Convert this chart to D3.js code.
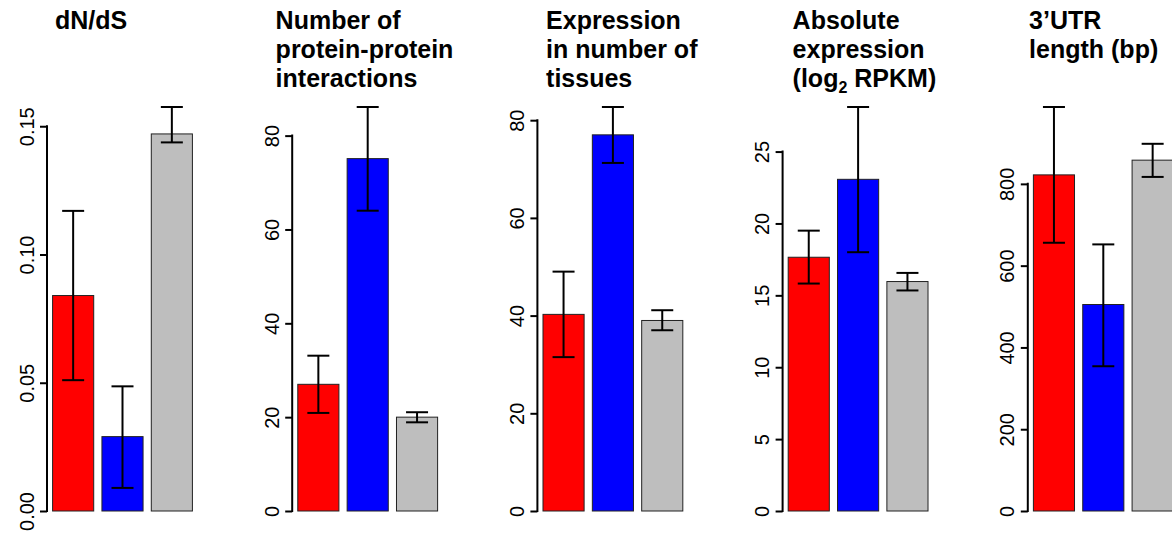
<!DOCTYPE html>
<html>
<head>
<meta charset="utf-8">
<script src="https://cdn.jsdelivr.net/npm/d3@7"></script>
<style>
  body { margin: 0; background: #fff; }
  text { font-family: "Liberation Sans", Arial, sans-serif; }
</style>
</head>
<body>
<script>
// groups (bar order) and their fills
var groups = ["group1", "group2", "group3"];
var fills = ["#ff0000", "#0000ff", "#bebebe"];

// panel titles (one entry per line)
var titles = [
    ["dN/dS"],
    ["Number of", "protein-protein", "interactions"],
    ["Expression", "in number of", "tissues"],
    ["Absolute", "expression", "(log2 RPKM)"],
    ["3\u2019UTR", "length (bp)"]
];

// means and error bar ends
var dndsMean = [0.084, 0.029, 0.147];
var dndsLow = [0.051, 0.009, 0.1437];
var dndsHigh = [0.117, 0.0486, 0.1575];

var ppiMean = [27.0, 75.1, 20.0];
var ppiLow = [20.9, 64.0, 18.9];
var ppiHigh = [33.1, 86.1, 21.05];

var tissueMean = [40.25, 77.0, 39.0];
var tissueLow = [31.5, 71.25, 37.0];
var tissueHigh = [49.0, 82.7, 41.1];

var rpkmMean = [17.65, 23.07, 15.96];
var rpkmLow = [15.82, 18.0, 15.34];
var rpkmHigh = [19.5, 28.1, 16.56];

var utrMean = [822, 505, 858];
var utrLow = [656, 354, 817];
var utrHigh = [988, 652, 898];

// tick labels per panel
var ticks = [
    [0, 0.05, 0.10, 0.15],
    [0, 20, 40, 60, 80],
    [0, 20, 40, 60, 80],
    [0, 5, 10, 15, 20, 25],
    [0, 200, 400, 600, 800]
];
var tickFormats = [d3.format(".2f"), d3.format("d"), d3.format("d"), d3.format("d"), d3.format("d")];

var means = [dndsMean, ppiMean, tissueMean, rpkmMean, utrMean];
var lows = [dndsLow, ppiLow, tissueLow, rpkmLow, utrLow];
var highs = [dndsHigh, ppiHigh, tissueHigh, rpkmHigh, utrHigh];

// layout
var width = 1172, height = 535;
var firstAxisX = 47, panelStep = 245.2, plotWidth = 151;
var plotTop = 107, plotBottom = 511;
var titleDx = [8, -16.6, 8.7, 10, 1.3];

var svg = d3.select("body").append("svg")
    .attr("width", width)
    .attr("height", height);

titles.forEach(function (lines, p) {
    var axisX = firstAxisX + p * panelStep;
    var g = svg.append("g").attr("transform", "translate(" + axisX + ",0)");

    var y = d3.scaleLinear()
        .domain([0, d3.max(highs[p])])
        .range([plotBottom, plotTop]);

    var x = d3.scaleBand()
        .domain(groups)
        .range([0, plotWidth])
        .paddingInner(1 / 6)
        .paddingOuter(0.1133);

    var rows = groups.map(function (gr, i) {
        return {group: gr, fill: fills[i], mean: means[p][i], low: lows[p][i], high: highs[p][i]};
    });

    // bars
    g.selectAll("rect.bar")
        .data(rows)
        .enter().append("rect")
        .attr("class", "bar")
        .attr("x", function (d) { return x(d.group); })
        .attr("width", x.bandwidth())
        .attr("y", function (d) { return y(d.mean); })
        .attr("height", function (d) { return y(0) - y(d.mean); })
        .attr("fill", function (d) { return d.fill; })
        .attr("stroke", "#222")
        .attr("stroke-width", 1);

    // error bars
    var err = g.selectAll("g.err")
        .data(rows)
        .enter().append("g")
        .attr("class", "err")
        .attr("stroke", "#000")
        .attr("stroke-width", 2);
    var cx = function (d) { return x(d.group) + x.bandwidth() / 2; };
    err.append("line")
        .attr("x1", cx).attr("x2", cx)
        .attr("y1", function (d) { return y(d.low); })
        .attr("y2", function (d) { return y(d.high); });
    err.append("line")
        .attr("x1", function (d) { return cx(d) - 11; })
        .attr("x2", function (d) { return cx(d) + 11; })
        .attr("y1", function (d) { return y(d.high); })
        .attr("y2", function (d) { return y(d.high); });
    err.append("line")
        .attr("x1", function (d) { return cx(d) - 11; })
        .attr("x2", function (d) { return cx(d) + 11; })
        .attr("y1", function (d) { return y(d.low); })
        .attr("y2", function (d) { return y(d.low); });

    // y axis
    var axis = g.append("g")
        .call(d3.axisLeft(y).tickValues(ticks[p]).tickFormat(tickFormats[p]).tickSize(7));
    axis.select(".domain").remove();
    axis.selectAll(".tick line").attr("stroke", "#000").attr("stroke-width", 2);
    axis.selectAll(".tick text")
        .attr("transform", "rotate(-90)")
        .attr("x", 0)
        .attr("y", -13.5)
        .attr("dy", 0)
        .attr("text-anchor", "middle")
        .attr("fill", "#000")
        .style("font-size", "20px")
        .style("font-family", "'Liberation Sans', Arial, sans-serif");
    var tv = ticks[p];
    g.append("line")
        .attr("x1", 0).attr("x2", 0)
        .attr("y1", y(tv[0]) + 1)
        .attr("y2", y(tv[tv.length - 1]) - 1)
        .attr("stroke", "#000")
        .attr("stroke-width", 2);

    // title
    var title = g.append("text")
        .style("font-size", "25px")
        .style("font-weight", "bold");
    lines.forEach(function (line, i) {
        var ts = title.append("tspan")
            .attr("x", titleDx[p])
            .attr("y", 28.5 + i * 29);
        var m = line.match(/^(.*log)2(.*)$/);
        if (m) {
            ts.append("tspan").text(m[1]);
            ts.append("tspan").attr("dy", 6).style("font-size", "16px").text("2");
            ts.append("tspan").attr("dy", -6).text(m[2]);
        } else {
            ts.text(line);
        }
    });
});
</script>
</body>
</html>
